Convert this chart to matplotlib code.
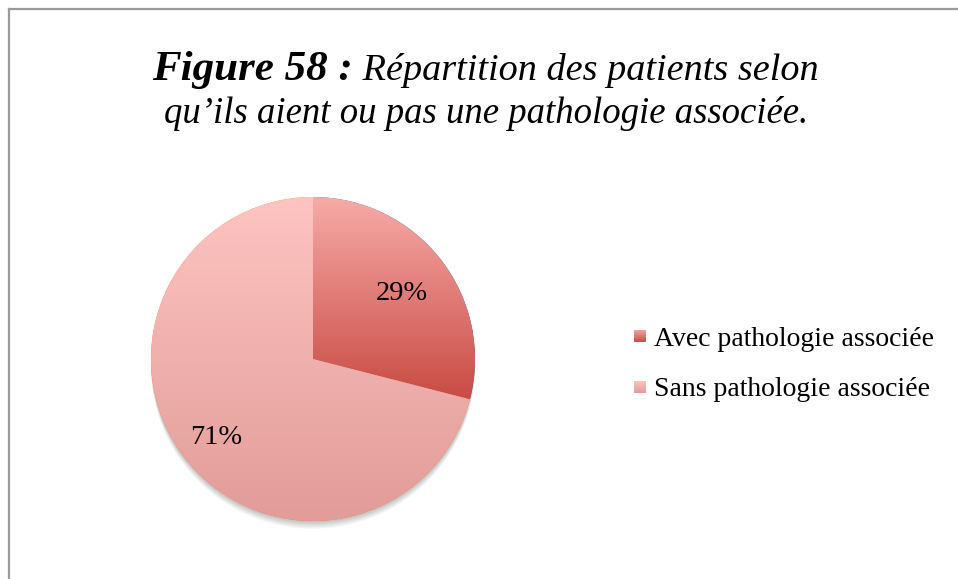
import numpy as np
import matplotlib
matplotlib.use("Agg")
import matplotlib.pyplot as plt
from matplotlib.colors import LinearSegmentedColormap
from matplotlib.patches import Circle

# Data
labels = ["Avec pathologie associée", "Sans pathologie associée"]
values = [29, 71]
title_bold = "Figure 58 :"
title_rest = " Répartition des patients selon"
title_line2 = "qu’ils aient ou pas une pathologie associée."

# Vertical gradients for each slice (top colour, bottom colour)
grad_top = ["#f7aba8", "#fdc4c1"]
grad_bottom = ["#c94b44", "#e29c99"]

W, H = 958, 579
fig = plt.figure(figsize=(W / 100, H / 100), dpi=100)
FONT = "Liberation Serif"

# Chart border (top and left edges)
bc = "#9a9a9a"
fig.add_artist(plt.Line2D([8.5 / W, 1.0], [1 - 8.5 / H, 1 - 8.5 / H],
                          transform=fig.transFigure, color=bc, lw=1.6))
fig.add_artist(plt.Line2D([8.5 / W, 8.5 / W], [0, 1 - 8.5 / H],
                          transform=fig.transFigure, color=bc, lw=1.6))

# Pie axes: centre (313, 359) px, radius 162 px
R_PX = 162
cx, cy = 313, H - 359
half = R_PX * 1.05
ax = fig.add_axes([(cx - half) / W, (cy - half) / H, 2 * half / W, 2 * half / H])

wedges, _ = ax.pie(values, startangle=90, counterclock=False, radius=1,
                   wedgeprops=dict(edgecolor="none"))

# Soft shadow below the pie
for off in np.linspace(0.005, 0.05, 12):
    ax.add_patch(Circle((0, -off), 1.0, color="black", alpha=0.02,
                        zorder=0, lw=0, clip_on=False))

grad = np.linspace(0, 1, 256).reshape(-1, 1)
for w, top, bot in zip(wedges, grad_top, grad_bottom):
    w.set_zorder(1)
    ext = w.get_path().get_extents()
    cmap = LinearSegmentedColormap.from_list("g", [top, bot])
    ax.imshow(grad, extent=[ext.x0, ext.x1, ext.y0, ext.y1], origin="upper",
              cmap=cmap, aspect="auto", clip_path=w, zorder=2,
              interpolation="bilinear")

# Percentage labels
label_dist = [0.69, 0.76]
for w, v, d in zip(wedges, values, label_dist):
    mid = np.deg2rad((w.theta1 + w.theta2) / 2)
    ax.text(d * np.cos(mid), d * np.sin(mid), f"{v}%", ha="center",
            va="center_baseline", fontsize=20.5, family=FONT, color="black",
            zorder=5)

ax.set_xlim(-1.05, 1.05)
ax.set_ylim(-1.05, 1.05)
ax.set_aspect("equal")
ax.axis("off")

# Legend drawn with gradient squares
leg_x = 634 / W
leg_rows = [336, 387]
sq = 12
for (lab, top, bot, ypx) in zip(labels, grad_top, grad_bottom, leg_rows):
    lax = fig.add_axes([leg_x, (H - ypx - sq / 2) / H, sq / W, sq / H])
    lax.imshow(grad, cmap=LinearSegmentedColormap.from_list("g", [top, bot]),
               aspect="auto", extent=[0, 1, 0, 1])
    lax.axis("off")
    fig.text(654 / W, (H - ypx - 3) / H, lab, ha="left", va="center",
             fontsize=20, family=FONT, color="black")

# Title: bold-italic lead followed by italic text, centred
fig.canvas.draw()
renderer = fig.canvas.get_renderer()
t1 = fig.text(0, 0, title_bold, fontsize=31, family=FONT,
              style="italic", weight="bold")
t2 = fig.text(0, 0, title_rest, fontsize=27.5, family=FONT, style="italic")
w1 = t1.get_window_extent(renderer).width
w2 = t2.get_window_extent(renderer).width
center_x = 485
x_start = center_x - (w1 + w2) / 2
base1 = H - 80
t1.set_position((x_start / W, base1 / H))
t1.set_va("baseline")
t2.set_position(((x_start + w1) / W, base1 / H))
t2.set_va("baseline")
fig.text(486 / W, (H - 123) / H, title_line2, fontsize=26.5, family=FONT,
         style="italic", ha="center", va="baseline")

fig.savefig("out.png", dpi=100, facecolor="white")
